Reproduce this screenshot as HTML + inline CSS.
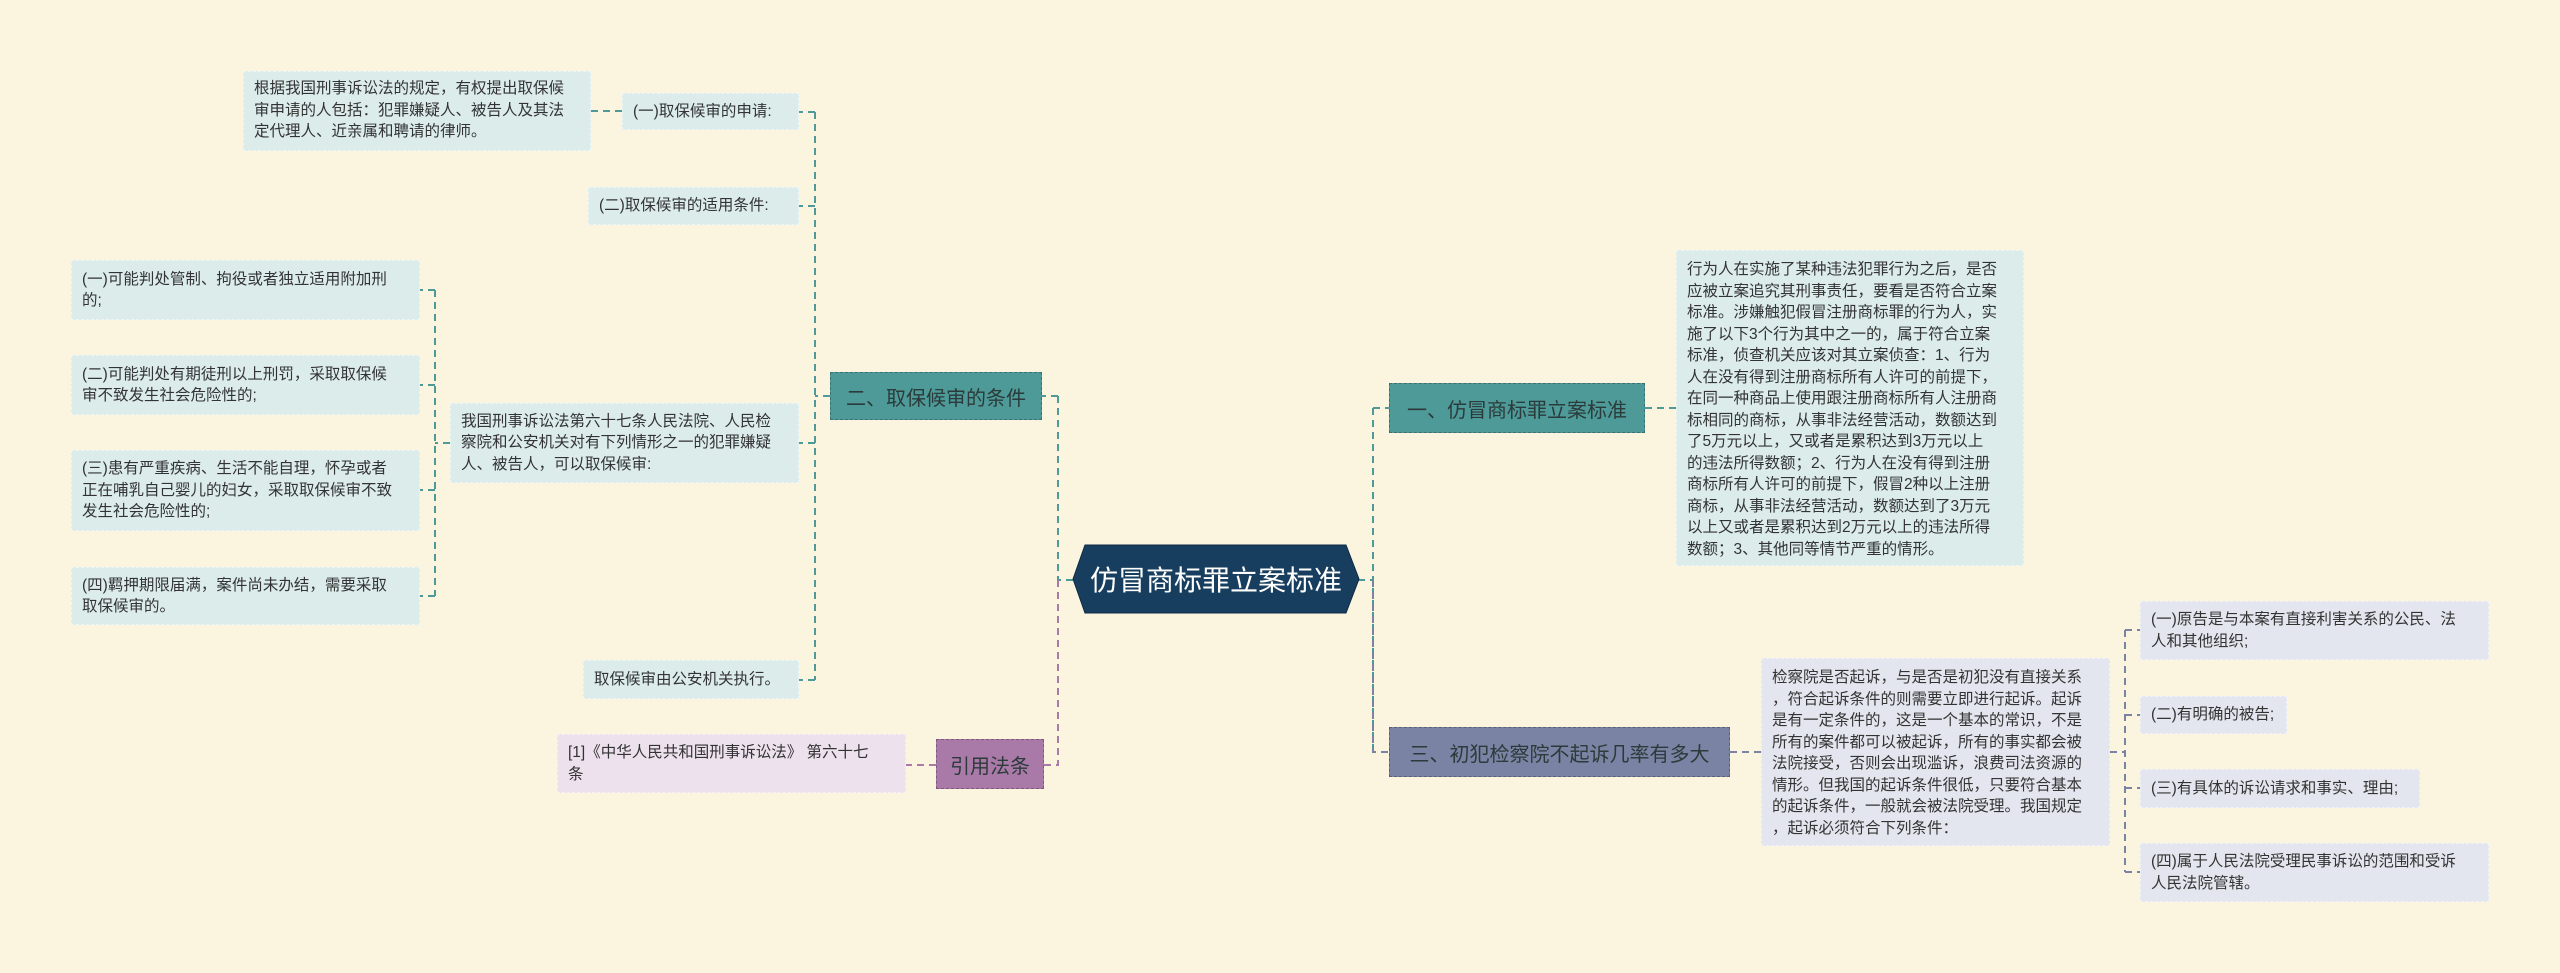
<!DOCTYPE html>
<html><head><meta charset="utf-8"><style>
body{margin:0;width:2560px;height:973px;background:#fbf5e0;position:relative;overflow:hidden;font-family:"Liberation Sans","Noto Sans CJK SC",sans-serif;}
.b{position:absolute;box-sizing:border-box;color:#333;font-size:15.5px;line-height:21.5px;padding:8px 10px;border:1px dashed rgba(255,255,255,0.5);}
.c{display:flex;align-items:center;}
.t{background:#dbeceb;}
.g{background:#e3e6ee;}
.p{background:#ede1ee;}
.br{position:absolute;box-sizing:border-box;display:flex;align-items:center;justify-content:center;font-size:20px;color:#2b3a3a;border:1px dashed rgba(0,0,0,0.25);}
svg{position:absolute;left:0;top:0;}
</style></head><body>
<svg width="2560" height="973">
<g fill="none" stroke-width="2" stroke-dasharray="7,5">
<path d="M1358 580 H1373 M1373 408 V752" stroke="#4e9a98"/>
<path d="M1373 408 H1390" stroke="#4e9a98"/>
<path d="M1373 580 V752 H1390" stroke="#7a83a3"/>
<path d="M1073 580 H1058 M1058 396 V580 M1058 396 H1042" stroke="#4e9a98"/>
<path d="M1058 580 V765 H1044" stroke="#a97aa8"/>
<path d="M1645 408 H1676" stroke="#4e9a98"/>
<path d="M1730 752 H1761" stroke="#7a83a3"/>
<path d="M905 765 H936" stroke="#a97aa8"/>
<path d="M830 396 H815 M815 112 V680 M815 112 H799 M815 206 H799 M815 443 H799 M815 680 H799" stroke="#4e9a98"/>
<path d="M622 111 H591" stroke="#4e9a98"/>
<path d="M450 443 H435 M435 290 V596 M435 290 H420 M435 385 H420 M435 490 H420 M435 596 H420" stroke="#4e9a98"/>
<path d="M2110 752 H2125 M2125 630 V872 M2125 630 H2140 M2125 715 H2140 M2125 788 H2140 M2125 872 H2140" stroke="#7a83a3"/>
</g>
<polygon points="1073,579 1085,545 1346,545 1359,579 1346,613 1085,613" fill="#173e5e" stroke="#0e2a42" stroke-width="1"/>
<text x="1216" y="590" fill="#fff" font-size="28" text-anchor="middle" font-family="Liberation Sans, Noto Sans CJK SC, sans-serif">仿冒商标罪立案标准</text>
</svg>

<div class="br" style="left:1389px;top:383px;width:256px;height:50px;background:#4e9a98;">一、仿冒商标罪立案标准</div>
<div class="br" style="left:830px;top:372px;width:212px;height:48px;background:#4e9a98;">二、取保候审的条件</div>
<div class="br" style="left:1389px;top:727px;width:341px;height:50px;background:#7a83a3;">三、初犯检察院不起诉几率有多大</div>
<div class="br" style="left:936px;top:739px;width:108px;height:50px;background:#a97aa8;">引用法条</div>

<div class="b t" style="left:1676px;top:250px;width:348px;height:316px;">行为人在实施了某种违法犯罪行为之后，是否<br>应被立案追究其刑事责任，要看是否符合立案<br>标准。涉嫌触犯假冒注册商标罪的行为人，实<br>施了以下3个行为其中之一的，属于符合立案<br>标准，侦查机关应该对其立案侦查：1、行为<br>人在没有得到注册商标所有人许可的前提下，<br>在同一种商品上使用跟注册商标所有人注册商<br>标相同的商标，从事非法经营活动，数额达到<br>了5万元以上，又或者是累积达到3万元以上<br>的违法所得数额；2、行为人在没有得到注册<br>商标所有人许可的前提下，假冒2种以上注册<br>商标，从事非法经营活动，数额达到了3万元<br>以上又或者是累积达到2万元以上的违法所得<br>数额；3、其他同等情节严重的情形。</div>

<div class="b g" style="left:1761px;top:658px;width:349px;height:188px;">检察院是否起诉，与是否是初犯没有直接关系<br>，符合起诉条件的则需要立即进行起诉。起诉<br>是有一定条件的，这是一个基本的常识，不是<br>所有的案件都可以被起诉，所有的事实都会被<br>法院接受，否则会出现滥诉，浪费司法资源的<br>情形。但我国的起诉条件很低，只要符合基本<br>的起诉条件，一般就会被法院受理。我国规定<br>，起诉必须符合下列条件：</div>
<div class="b g c" style="left:2140px;top:601px;width:349px;height:59px;">(一)原告是与本案有直接利害关系的公民、法<br>人和其他组织;</div>
<div class="b g c" style="left:2140px;top:696px;width:147px;height:38px;">(二)有明确的被告;</div>
<div class="b g c" style="left:2140px;top:769px;width:280px;height:39px;">(三)有具体的诉讼请求和事实、理由;</div>
<div class="b g c" style="left:2140px;top:843px;width:349px;height:59px;">(四)属于人民法院受理民事诉讼的范围和受诉<br>人民法院管辖。</div>

<div class="b p c" style="left:557px;top:734px;width:349px;height:59px;">[1]《中华人民共和国刑事诉讼法》 第六十七<br>条</div>

<div class="b t" style="left:243px;top:71px;width:348px;height:80px;padding-top:6px;">根据我国刑事诉讼法的规定，有权提出取保候<br>审申请的人包括：犯罪嫌疑人、被告人及其法<br>定代理人、近亲属和聘请的律师。</div>
<div class="b t c" style="left:622px;top:93px;width:177px;height:37px;">(一)取保候审的申请:</div>
<div class="b t c" style="left:588px;top:187px;width:211px;height:38px;">(二)取保候审的适用条件:</div>
<div class="b t c" style="left:450px;top:403px;width:349px;height:80px;">我国刑事诉讼法第六十七条人民法院、人民检<br>察院和公安机关对有下列情形之一的犯罪嫌疑<br>人、被告人，可以取保候审:</div>
<div class="b t c" style="left:583px;top:660px;width:216px;height:39px;">取保候审由公安机关执行。</div>

<div class="b t c" style="left:71px;top:260px;width:349px;height:60px;">(一)可能判处管制、拘役或者独立适用附加刑<br>的;</div>
<div class="b t c" style="left:71px;top:355px;width:349px;height:60px;">(二)可能判处有期徒刑以上刑罚，采取取保候<br>审不致发生社会危险性的;</div>
<div class="b t c" style="left:71px;top:450px;width:349px;height:81px;">(三)患有严重疾病、生活不能自理，怀孕或者<br>正在哺乳自己婴儿的妇女，采取取保候审不致<br>发生社会危险性的;</div>
<div class="b t c" style="left:71px;top:567px;width:349px;height:58px;">(四)羁押期限届满，案件尚未办结，需要采取<br>取保候审的。</div>
</body></html>
